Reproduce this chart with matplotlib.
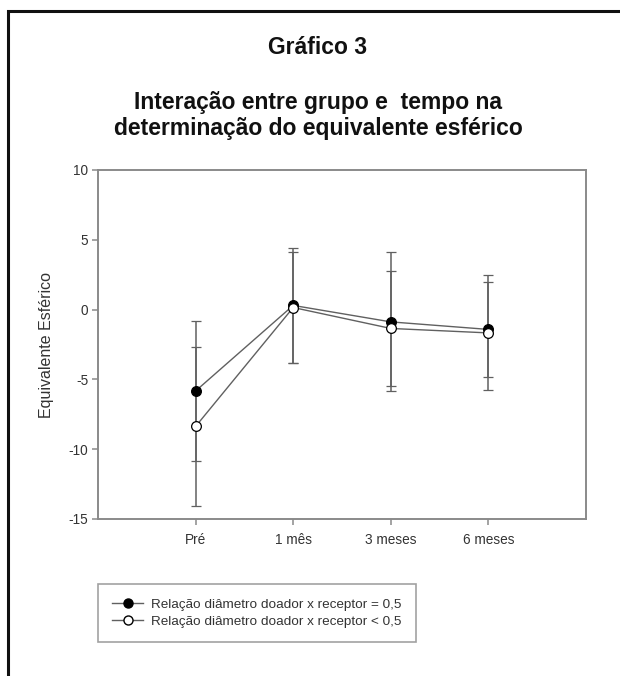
import numpy as np
import matplotlib.pyplot as plt
from matplotlib.patches import Rectangle
from matplotlib.lines import Line2D

# -----------------------------
# DATA
# -----------------------------

time_labels = ['Pré', '1 mês', '3 meses', '6 meses']
time_pos = [1, 2, 3, 4]

# relação = 0,5 (filled markers)
mean_eq = [-5.83, 0.30, -0.88, -1.42]
err_eq = [5.04, 4.14, 4.98, 3.42]

# relação < 0,5 (open markers)
mean_lt = [-8.37, 0.15, -1.35, -1.67]
err_lt = [5.68, 3.95, 4.10, 4.12]

legend_labels = [
    'Relação diâmetro doador x receptor = 0,5',
    'Relação diâmetro doador x receptor < 0,5',
]

# -----------------------------
# STYLE
# -----------------------------

plt.rcParams['font.family'] = ['Liberation Sans', 'DejaVu Sans']
plt.rcParams['axes.unicode_minus'] = False

W, H = 620, 676
line_col = '#606060'
spine_col = '#8a8a8a'
text_col = '#333333'

fig = plt.figure(figsize=(W / 100, H / 100), dpi=100)
fig.patch.set_facecolor('white')

# outer frame (cropped on right / bottom like the scan)
fig.patches.append(Rectangle((8 / W, -0.05), 1.2, 1 - 11 / H + 0.05,
                             transform=fig.transFigure, fill=False,
                             edgecolor='#111111', linewidth=2.2))

# titles
fig.text(318 / W, 1 - 48 / H, 'Gráfico 3', ha='center', va='center',
         fontsize=16.5, fontweight='bold', color='#111111')
fig.text(318 / W, 1 - 103 / H, 'Interação entre grupo e  tempo na',
         ha='center', va='center', fontsize=16.5, fontweight='bold',
         color='#111111')
fig.text(318 / W, 1 - 128 / H, 'determinação do equivalente esférico',
         ha='center', va='center', fontsize=16.5, fontweight='bold',
         color='#111111')

# -----------------------------
# AXES
# -----------------------------

ax_l, ax_r, ax_t, ax_b = 98, 586, 170, 519
ax = fig.add_axes([ax_l / W, 1 - ax_b / H, (ax_r - ax_l) / W, (ax_b - ax_t) / H])

for m, e, face in [(mean_eq, err_eq, 'black'), (mean_lt, err_lt, 'white')]:
    ax.errorbar(time_pos, m, yerr=e, color=line_col, ecolor=line_col,
                elinewidth=1.1, capsize=3.8, capthick=1.1, linewidth=1.0,
                marker='o', markersize=7, markerfacecolor=face,
                markeredgecolor='black', markeredgewidth=0.9, zorder=3)

ax.set_xlim(0, 5)
ax.set_ylim(-15, 10)
ax.set_xticks(time_pos)
ax.set_xticklabels(time_labels)
ax.set_yticks([-15, -10, -5, 0, 5, 10])

for s in ax.spines.values():
    s.set_color(spine_col)
    s.set_linewidth(1.4)

ax.tick_params(direction='out', length=4, width=1.1, color=spine_col,
               labelsize=9.8, labelcolor=text_col, top=False, right=False)
ax.tick_params(axis='x', pad=6)
ax.tick_params(axis='y', pad=3)

ax.set_ylabel('Equivalente Esférico', fontsize=11.5, color=text_col)
ax.yaxis.set_label_coords(-(ax_l - 54) / (ax_r - ax_l), 0.5)

# -----------------------------
# LEGEND
# -----------------------------

handles = [
    Line2D([], [], color=line_col, linewidth=1.0, marker='o', markersize=6.5,
           markerfacecolor='black', markeredgecolor='black'),
    Line2D([], [], color=line_col, linewidth=1.0, marker='o', markersize=6.5,
           markerfacecolor='white', markeredgecolor='black'),
]
leg = fig.legend(handles, legend_labels, loc='upper left',
                 bbox_to_anchor=(98 / W, 1 - 584 / H), fontsize=9.7,
                 frameon=True, fancybox=False, handlelength=2.3,
                 handletextpad=0.6, borderpad=1.05, labelspacing=0.35,
                 borderaxespad=0)
leg.get_frame().set_edgecolor(spine_col)
leg.get_frame().set_linewidth(1.2)
for t in leg.get_texts():
    t.set_color(text_col)

plt.savefig('out.png', dpi=100)
